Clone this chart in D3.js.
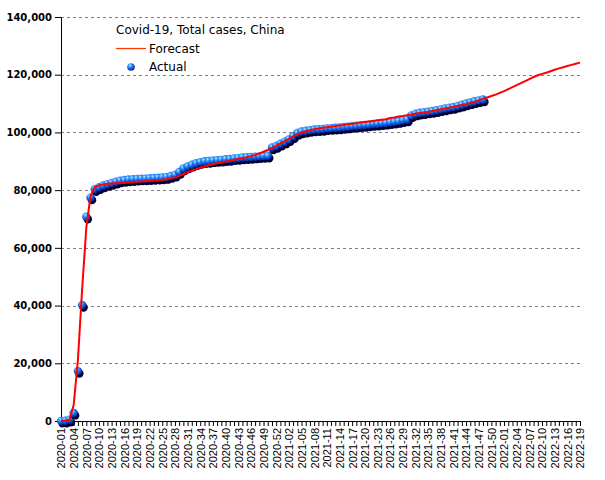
<!DOCTYPE html>
<html><head><meta charset="utf-8">
<script src="https://cdn.jsdelivr.net/npm/d3@7"></script>
<style>body{margin:0;background:#fff} svg{display:block}</style>
</head><body><svg id="c" width="605" height="480"></svg>
<script>
// ISO week categories: years and number of weeks shown for each
const yearWeeks = [[2020, 53], [2021, 52], [2022, 19]];
const weeks = [];
for (const [yr, n] of yearWeeks) for (let w = 1; w <= n; w++) weeks.push(yr + "-" + String(w).padStart(2, "0"));

// Actual weekly totals (2020-01 .. 2021-48)
const actual = [
  50, 100, 450, 2800, 17300, 40200, 70800, 77400, 80300, 81000,
  81600, 82100, 82500, 82900, 83300, 83500, 83700, 83800, 83900, 84000,
  84000, 84100, 84200, 84300, 84400, 84500, 84900, 85300, 86300, 87500,
  88200, 88800, 89300, 89700, 90000, 90100, 90300, 90400, 90500, 90700,
  90800, 91000, 91100, 91300, 91400, 91500, 91600, 91700, 91800, 91900,
  94800, 95300, 96100, 96800, 97600, 98700, 99800, 100300, 100600, 100800,
  101000, 101100, 101200, 101400, 101500, 101600, 101700, 101900, 102000, 102200,
  102300, 102500, 102600, 102700, 102900, 103000, 103200, 103300, 103500, 103700,
  103900, 104200, 104500, 105900, 106500, 106800, 107000, 107200, 107400, 107700,
  108000, 108300, 108600, 108800, 109200, 109600, 110000, 110400, 110800, 111100,
  111400
];

// Forecast weekly totals (2020-01 .. 2022-19)
const forecast = [
  0, 50, 400, 5500, 21000, 45500, 67000, 78000, 81000, 81700,
  82000, 82200, 82300, 82400, 82500, 82600, 82700, 82800, 82900, 83000,
  83100, 83200, 83300, 83400, 83600, 83800, 84100, 84500, 85000, 85600,
  86200, 86800, 87300, 87800, 88200, 88600, 89000, 89300, 89600, 89900,
  90200, 90500, 90800, 91100, 91400, 91800, 92200, 92700, 93300, 93900,
  94600, 95400, 96200, 97000, 97800, 98600, 99300, 99900, 100400, 100800,
  101100, 101400, 101600, 101800, 102000, 102200, 102400, 102600, 102800, 103000,
  103200, 103400, 103600, 103800, 104000, 104200, 104400, 104600, 105000, 105200,
  105500, 105700, 106000, 106200, 106500, 106700, 106900, 107100, 107400, 107700,
  108000, 108300, 108600, 108900, 109200, 109500, 109800, 110200, 110600, 111100,
  111700, 112100, 112600, 113100, 113700, 114300, 115000, 115700, 116400, 117100,
  117800, 118500, 119200, 119800, 120300, 120700, 121200, 121700, 122200, 122600,
  123000, 123400, 123800, 124200
];

const yTicks = [0, 20000, 40000, 60000, 80000, 100000, 120000, 140000];
const labelStep = 3;
const titleText = "Covid-19, Total cases, China";
const seriesNames = ["Forecast", "Actual"];

const svg = d3.select("#c");
const x = d3.scalePoint().domain(weeks).range([61, 580]);
const y = d3.scaleLinear().domain([0, 140000]).range([421, 17]);

const defs = svg.append("defs");
const g = defs.append("radialGradient").attr("id", "ball")
  .attr("cx", "38%").attr("cy", "30%").attr("r", "70%");
g.append("stop").attr("offset", "0%").attr("stop-color", "#b8e8ff");
g.append("stop").attr("offset", "30%").attr("stop-color", "#3a9cff");
g.append("stop").attr("offset", "70%").attr("stop-color", "#0a4fd8");
g.append("stop").attr("offset", "100%").attr("stop-color", "#062a8a");

// grid
svg.append("g").selectAll("line").data(yTicks.filter(d => d > 0)).join("line")
  .attr("x1", 61).attr("x2", 580)
  .attr("y1", d => Math.round(y(d)) + 0.5).attr("y2", d => Math.round(y(d)) + 0.5)
  .attr("stroke", "#808080").attr("stroke-dasharray", "3,3");

// axes
const yAxis = svg.append("g").attr("transform", "translate(61,0)")
  .call(d3.axisLeft(y).tickValues(yTicks).tickSize(6).tickSizeOuter(0).tickPadding(3).tickFormat(d3.format(",")));
yAxis.selectAll("text").attr("font-family", "DejaVu Sans").attr("font-weight", "bold").attr("font-size", 10).attr("fill", "#000");
yAxis.selectAll("line,path").attr("stroke", "#000");

const xAxis = svg.append("g").attr("transform", "translate(0,421)")
  .call(d3.axisBottom(x).tickSize(5).tickSizeOuter(0).tickFormat((d, i) => i % labelStep === 0 ? d : ""));
xAxis.selectAll("line,path").attr("stroke", "#000");
xAxis.selectAll("text")
  .attr("font-family", "Liberation Sans").attr("font-size", 11).attr("fill", "#000")
  .attr("transform", "rotate(-90)").attr("text-anchor", "end")
  .attr("x", -7).attr("y", 0).attr("dy", "0.35em");

// actual points
const pts = svg.append("g").selectAll("g").data(actual).join("g")
  .attr("transform", (d, i) => `translate(${x(weeks[i])},${y(d)})`);
pts.append("circle").attr("cx", 1.5).attr("cy", 2.5).attr("r", 4.2).attr("fill", "#000033");
pts.append("circle").attr("r", 4.2).attr("fill", "url(#ball)");

// forecast line
svg.append("path").datum(forecast)
  .attr("d", d3.line().x((d, i) => x(weeks[i])).y(d => y(d)))
  .attr("fill", "none").attr("stroke", "#ff0000").attr("stroke-width", 2);

// legend
const lg = svg.append("g").attr("font-family", "DejaVu Sans").attr("font-size", 12).attr("fill", "#000");
lg.append("text").attr("x", 116).attr("y", 34).text(titleText);
lg.append("line").attr("x1", 116).attr("x2", 146).attr("y1", 48.5).attr("y2", 48.5)
  .attr("stroke", "#ff3300").attr("stroke-width", 1.2);
lg.append("text").attr("x", 149).attr("y", 53).text(seriesNames[0]);
lg.append("circle").attr("cx", 131).attr("cy", 67).attr("r", 3.8).attr("fill", "url(#ball)");
lg.append("text").attr("x", 149).attr("y", 71).text(seriesNames[1]);
</script></body></html>
